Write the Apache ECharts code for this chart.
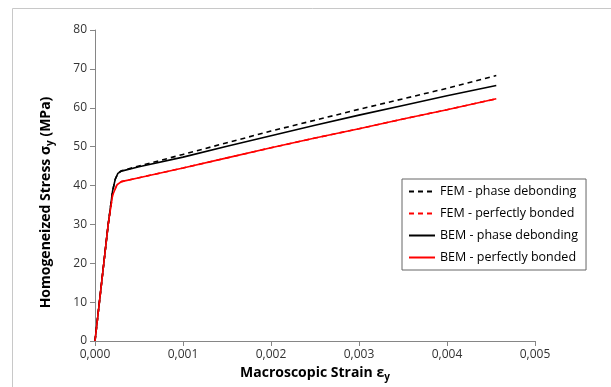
<!DOCTYPE html>
<html><head><meta charset="utf-8">
<script src="https://cdn.jsdelivr.net/npm/echarts@6/dist/echarts.min.js"></script>
<style>html,body{margin:0;padding:0;background:#fff}#c{width:611px;height:387px}</style>
</head><body><div id="c"></div>
<script>
var seriesNames = ['FEM - phase debonding','FEM - perfectly bonded','BEM - phase debonding','BEM - perfectly bonded'];
var femDebond = [[0,0],[0.00005,10],[0.0001,20],[0.00015,30],[0.0002,38.6],[0.00023,41.6],[0.00026,43.1],[0.0003,43.8],[0.0005,45.0],[0.001,48.0],[0.0015,51.0],[0.002,54.0],[0.0025,56.8],[0.003,59.6],[0.0035,62.3],[0.004,65.0],[0.00456,68.3]];
var femBonded = [[0,0],[0.00005,10],[0.0001,20],[0.00015,30],[0.0002,37.6],[0.00025,40.2],[0.0003,41.0],[0.0005,42.0],[0.001,44.5],[0.0015,47.1],[0.002,49.7],[0.0025,52.2],[0.003,54.6],[0.0035,57.1],[0.004,59.5],[0.00456,62.3]];
var bemDebond = [[0,0],[0.00005,10],[0.0001,20],[0.00015,30],[0.0002,38.6],[0.00023,41.6],[0.00026,43.1],[0.0003,43.7],[0.0005,44.8],[0.001,47.3],[0.0015,50.1],[0.002,52.8],[0.0025,55.5],[0.003,58.1],[0.0035,60.6],[0.004,63.1],[0.00456,65.7]];
var bemBonded = [[0,0],[0.00005,10],[0.0001,20],[0.00015,30],[0.0002,37.5],[0.00025,40.2],[0.0003,41.0],[0.0005,42.0],[0.001,44.5],[0.0015,47.1],[0.002,49.7],[0.0025,52.2],[0.003,54.6],[0.0035,57.1],[0.004,59.5],[0.00456,62.3]];
var xTicks = {min:0, max:0.005, interval:0.001};
var yTicks = {min:0, max:80, interval:10};

var chart = echarts.init(document.getElementById('c'), null, {renderer:'canvas'});
var font = '"Open Sans", sans-serif';
function mk(name, data, color, type){
  return {name:name, type:'line', data:data, symbol:'none', smooth:false,
    lineStyle:{color:color, width:1.6, type:type==='dashed'?[5,4]:'solid'}, itemStyle:{color:color}, z: type==='dashed'?2:3};
}
chart.setOption({
  animation:false,
  backgroundColor:'#fff',
  graphic:[{type:'rect', shape:{x:12.5, y:8.5, width:640, height:420}, style:{fill:'none', stroke:'#c8c8c8', lineWidth:1}, z:-1}],
  grid:{left:95, right:76, top:30, bottom:46},
  legend:{orient:'vertical', left:402, top:179, itemWidth:26, itemHeight:14, itemGap:9,
    padding:[6,8,6,6], borderColor:'#666', borderWidth:1, backgroundColor:'#fff',
    itemStyle:{opacity:0},
    textStyle:{fontFamily:font, fontSize:12.5, color:'#000'},
    data:seriesNames},
  xAxis:{type:'value', min:xTicks.min, max:xTicks.max, interval:xTicks.interval,
    name:'{t|Macroscopic Strain ε}{s|y}', nameLocation:'middle', nameGap:23,
    nameTextStyle:{rich:{t:{fontFamily:font, fontSize:14, fontWeight:'bold', color:'#000'}, s:{fontFamily:font, fontSize:10, fontWeight:'bold', color:'#000', padding:[8,0,0,0]}}},
    axisLine:{lineStyle:{color:'#868686'}}, axisTick:{length:5, lineStyle:{color:'#868686'}},
    splitLine:{show:false},
    axisLabel:{fontFamily:font, fontSize:12, color:'#333', margin:8, formatter:function(v){return v.toFixed(3).replace('.',',');}}},
  yAxis:{type:'value', min:yTicks.min, max:yTicks.max, interval:yTicks.interval,
    name:'{t|Homogeneized Stress σ}{s|y}{t| (MPa)}', nameLocation:'middle', nameGap:40,
    nameTextStyle:{padding:[0,34,0,0], rich:{t:{fontFamily:font, fontSize:14, fontWeight:'bold', color:'#000'}, s:{fontFamily:font, fontSize:10, fontWeight:'bold', color:'#000', padding:[8,0,0,0]}}},
    axisLine:{show:true, lineStyle:{color:'#868686'}}, axisTick:{show:true, length:5, lineStyle:{color:'#868686'}},
    splitLine:{show:false},
    axisLabel:{fontFamily:font, fontSize:12, color:'#333', margin:8}},
  series:[
    mk(seriesNames[0], femDebond, '#000', 'dashed'),
    mk(seriesNames[1], femBonded, '#ff0000', 'dashed'),
    mk(seriesNames[2], bemDebond, '#000', 'solid'),
    mk(seriesNames[3], bemBonded, '#ff0000', 'solid')
  ]
});
</script></body></html>
